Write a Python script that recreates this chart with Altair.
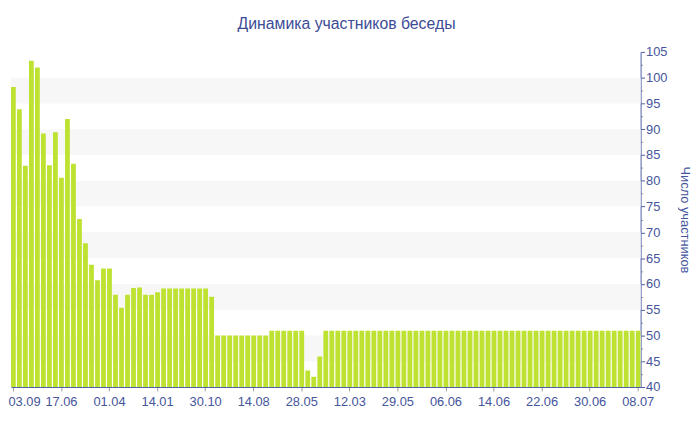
import altair as alt
import pandas as pd

# Bar values (one per bar, left to right)
values = [
    98.2, 93.9, 82.9, 103.3, 102.0, 89.2, 83.0, 89.4, 80.6, 92.0,
    83.3, 72.6, 67.9, 63.7, 60.7, 63.0, 63.0, 57.9, 55.4, 57.9,
    59.2, 59.3, 57.9, 57.9, 58.4,
    59.1, 59.1, 59.1, 59.1, 59.1, 59.1, 59.1, 59.1,
    57.5,
    50.0, 50.0, 50.0, 50.0, 50.0, 50.0, 50.0, 50.0, 50.0,
    50.9, 50.9, 50.9, 50.9, 50.9, 50.9,
    43.2, 42.0, 45.9,
] + [50.9] * 53

tick_positions = [0, 8, 16, 24, 32, 40, 48, 56, 64, 72, 80, 88, 96, 104]
tick_labels = ["03.09", "17.06", "01.04", "14.01", "30.10", "14.08", "28.05",
               "12.03", "29.05", "06.06", "14.06", "22.06", "30.06", "08.07"]

band_low = [45, 55, 65, 75, 85, 95]
band_high = [50, 60, 70, 80, 90, 100]

y_ticks = [40 + 2.5 * k for k in range(27)]

FONT = "Liberation Sans"
TEXT = "#45559c"
AXIS_BLUE = "#4e5fa6"

df = pd.DataFrame({"i": list(range(len(values))), "v": values})
bands = pd.DataFrame({"lo": band_low, "hi": band_high})

label_map = "{" + ",".join(f"'{p}':'{l}'" for p, l in zip(tick_positions, tick_labels)) + "}"

y_scale = alt.Scale(domain=[40, 105], nice=False, zero=False)
y_axis = alt.Axis(
    orient="right",
    values=y_ticks,
    labelExpr="datum.value % 5 === 0 ? datum.label : ''",
    tickSize={"condition": {"test": "datum.value % 5 !== 0", "value": 2}, "value": 4},
    tickColor={"condition": {"test": "datum.value % 5 !== 0", "value": "#9a9a9a"}, "value": AXIS_BLUE},
    grid=False,
    domainColor=AXIS_BLUE,
    labelColor=TEXT,
    labelFont=FONT,
    labelFontSize=13,
    labelPadding=1,
    title="Число участников",
    titleColor=TEXT,
    titleFont=FONT,
    titleFontSize=13,
    titleFontWeight="normal",
    titlePadding=11,
)

bands_layer = alt.Chart(bands).mark_rect(color="#f7f7f7").encode(
    x=alt.value(0),
    x2=alt.value("width"),
    y=alt.Y("lo:Q", scale=y_scale, axis=y_axis),
    y2="hi:Q",
)

first_tick = f"datum.value === {tick_positions[0]}"

bars_layer = alt.Chart(df).mark_bar(color="#bee232", clip=True).encode(
    x=alt.X(
        "i:O",
        scale=alt.Scale(paddingInner=0.2, paddingOuter=0.0),
        axis=alt.Axis(
            values=tick_positions,
            labelExpr=f"{label_map}[datum.value]",
            labelAngle=0,
            labelAlign={"condition": {"test": first_tick, "value": "left"}, "value": "center"},
            labelOffset={"condition": {"test": first_tick, "value": -5}, "value": 0},
            title=None,
            domainColor=AXIS_BLUE,
            tickColor="#9a9a9a",
            tickSize=4,
            labelPadding=5,
            labelColor=TEXT,
            labelFont=FONT,
            labelFontSize=13,
        ),
    ),
    y=alt.Y("v:Q", scale=y_scale, axis=y_axis),
)

chart = (
    alt.layer(bands_layer, bars_layer)
    .properties(
        width=637,
        height=339,
        title=alt.TitleParams(
            "Динамика участников беседы",
            font=FONT,
            fontSize=16,
            fontWeight="normal",
            color="#3c4c96",
            anchor="middle",
            frame="group",
            dx=21,
            offset=14,
        ),
        padding={"left": 3, "top": 42, "right": 52, "bottom": 38},
        autosize=alt.AutoSizeParams(type="none"),
    )
    .configure(background="white", view=alt.ViewConfig(stroke=None))
)

chart.save("out.html", embed_options={"renderer": "svg", "actions": False})
